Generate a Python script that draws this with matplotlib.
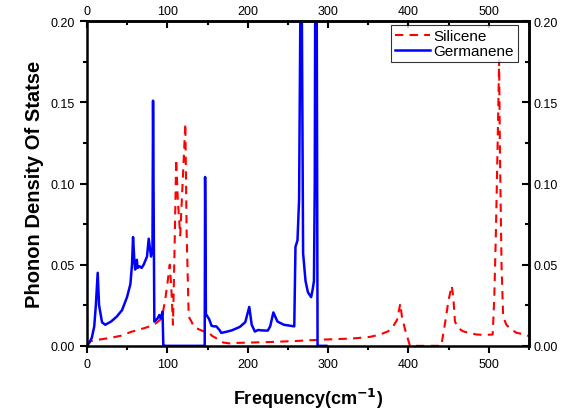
import numpy as np
import matplotlib
matplotlib.use("Agg")
import matplotlib.pyplot as plt
from matplotlib.ticker import MultipleLocator, FixedLocator

plt.rcParams['font.family'] = ['Liberation Sans', 'DejaVu Sans']

# Silicene phonon DOS (red dashed)
si_freq = [0, 2, 5, 10, 17, 30, 45, 54, 65, 75, 81, 86, 91, 95, 97.5, 100, 103,
           105, 107, 109, 111, 113, 116, 119, 122.4, 124, 126.6, 130, 133, 140,
           145, 151, 156, 160, 165, 170, 178, 185, 200, 230, 260, 296, 330, 352,
           365, 375, 381, 386, 390, 392, 396, 402, 420, 441, 446, 450, 454, 456,
           458, 462, 468, 475, 485, 495, 505, 507, 509, 511, 513, 514, 516, 518,
           522, 528, 535, 545, 550]
si_dos = [0, 0.002, 0.003, 0.0035, 0.004, 0.005, 0.0065, 0.0085, 0.010, 0.0115,
          0.0128, 0.014, 0.016, 0.022, 0.029, 0.038, 0.050, 0.035, 0.013, 0.06,
          0.115, 0.09, 0.068, 0.10, 0.137, 0.07, 0.018, 0.015, 0.0117, 0.010,
          0.009, 0.0085, 0.006, 0.005, 0.003, 0.002, 0.0015, 0.0018, 0.002,
          0.0024, 0.003, 0.0039, 0.0045, 0.0055, 0.007, 0.009, 0.012, 0.016,
          0.026, 0.018, 0.010, 0, 0, 0, 0.015, 0.028, 0.037, 0.030, 0.015,
          0.011, 0.009, 0.008, 0.007, 0.0067, 0.007, 0.03, 0.07, 0.12, 0.176,
          0.12, 0.05, 0.018, 0.013, 0.010, 0.008, 0.007, 0.006]

# Germanene phonon DOS (blue solid)
ge_freq = [0, 3, 6, 9, 11, 13.3, 15, 18.7, 22.8, 30, 37, 43.6, 49.8, 54, 56,
           57.3, 59, 60, 62, 63, 65.5, 68, 70.5, 74.7, 76.8, 79.7, 81.5, 82.2,
           83.8, 86, 88, 90, 92, 94, 95, 95.01, 146.5, 147, 148, 150, 152, 155,
           158, 161, 165.5, 167, 172, 180, 190, 197, 202, 205, 209, 213, 218,
           225, 228, 232, 237, 245, 258, 259.5, 262, 264, 265.5, 266.5, 267.5,
           269, 272, 275, 279, 281, 282.5, 283.5, 284.5, 285.5, 286.5, 287, 298]
ge_dos = [0, 0.002, 0.005, 0.012, 0.025, 0.045, 0.025, 0.0145, 0.013, 0.015,
          0.018, 0.022, 0.03, 0.038, 0.05, 0.067, 0.052, 0.047, 0.053, 0.048,
          0.049, 0.048, 0.05, 0.055, 0.066, 0.055, 0.06, 0.151, 0.015, 0.016,
          0.017, 0.019, 0.017, 0.021, 0.0, 0.0, 0.0, 0.104, 0.0196, 0.018,
          0.0165, 0.0124, 0.012, 0.012, 0.0094, 0.008, 0.0085, 0.0095, 0.0116,
          0.0146, 0.024, 0.013, 0.0088, 0.0098, 0.0095, 0.0094, 0.012, 0.0206,
          0.015, 0.013, 0.012, 0.061, 0.065, 0.09, 0.2, 0.3, 0.2, 0.057, 0.04,
          0.033, 0.03, 0.035, 0.04, 0.1, 0.3, 0.3, 0.1, 0.0, 0.0]

x_major = [0, 100, 200, 300, 400, 500]
x_minor = [50, 150, 250, 350, 450, 550]
y_major = [0.0, 0.05, 0.10, 0.15, 0.20]
y_minor = [0.025, 0.075, 0.125, 0.175]

fig = plt.figure(figsize=(5.65, 4.10), dpi=100)
ax = fig.add_axes([0.154, 0.154, 0.782, 0.792])

ax.plot(si_freq, si_dos, color='red', linestyle='--', linewidth=1.5,
        dashes=(4, 3), label='Silicene')
ax.plot(ge_freq, ge_dos, color='blue', linestyle='-', linewidth=1.8,
        label='Germanene')

ax.set_xlim(0, 550)
ax.set_ylim(0, 0.2)
ax.xaxis.set_major_locator(FixedLocator(x_major))
ax.xaxis.set_minor_locator(FixedLocator(x_minor))
ax.yaxis.set_major_locator(FixedLocator(y_major))
ax.yaxis.set_minor_locator(FixedLocator(y_minor))
ax.yaxis.set_major_formatter(plt.FormatStrFormatter('%.2f'))

ax.tick_params(which='both', direction='out', width=1.5, labelsize=9,
               top=False, right=False)
ax.tick_params(which='major', length=5)
ax.tick_params(which='minor', length=3)

# mirrored axes with inward ticks and labels (Origin style)
ax_top = ax.secondary_xaxis('top')
ax_top.xaxis.set_major_locator(FixedLocator(x_major))
ax_top.xaxis.set_minor_locator(FixedLocator(x_minor))
ax_top.tick_params(which='both', direction='in', width=1.5, labelsize=9, pad=3)
ax_top.tick_params(which='major', length=5)
ax_top.tick_params(which='minor', length=3)

ax_right = ax.secondary_yaxis('right')
ax_right.yaxis.set_major_locator(FixedLocator(y_major))
ax_right.yaxis.set_minor_locator(FixedLocator(y_minor))
ax_right.yaxis.set_major_formatter(plt.FormatStrFormatter('%.2f'))
ax_right.tick_params(which='both', direction='in', width=1.5, labelsize=9, pad=3)
ax_right.tick_params(which='major', length=5)
ax_right.tick_params(which='minor', length=3)

for s in ax.spines.values():
    s.set_linewidth(1.8)
ax_top.spines['top'].set_linewidth(1.8)
ax_right.spines['right'].set_linewidth(1.8)

ax.set_xlabel('Frequency(cm$^{\\mathbf{-1}}$)', fontsize=13, fontweight='bold',
              labelpad=12)
ax.set_ylabel('Phonon Density Of Statse', fontsize=14.5, fontweight='bold',
              labelpad=5)

leg = ax.legend(loc='upper right', fontsize=11, frameon=True, fancybox=False,
                borderpad=0.25, labelspacing=0.1, handlelength=2.3,
                handletextpad=0.2, borderaxespad=0.0,
                bbox_to_anchor=(0.975, 0.988))
leg.get_frame().set_edgecolor('black')
leg.get_frame().set_linewidth(0.8)

fig.savefig('out.png', dpi=100)
